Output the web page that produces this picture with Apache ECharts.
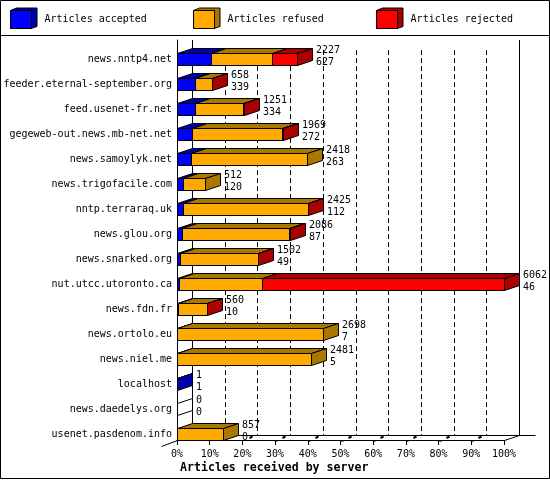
<!DOCTYPE html>
<html>
<head>
<meta charset="utf-8">
<style>html,body{margin:0;padding:0;background:#fff}#c{width:550px;height:480px}</style>
<script src="https://cdn.jsdelivr.net/npm/echarts@6/dist/echarts.min.js"></script>
</head>
<body>
<div id="c"></div>
<script>
const categories = ['news.nntp4.net','feeder.eternal-september.org','feed.usenet-fr.net','gegeweb-out.news.mb-net.net','news.samoylyk.net','news.trigofacile.com','nntp.terraraq.uk','news.glou.org','news.snarked.org','nut.utcc.utoronto.ca','news.fdn.fr','news.ortolo.eu','news.niel.me','localhost','news.daedelys.org','usenet.pasdenom.info'];
const accepted = [627,339,334,272,263,120,112,87,49,46,10,7,5,1,0,0];
const refused  = [1139,316,882,1672,2155,392,2309,1996,1450,1539,547,2691,2476,0,0,857];
const rejected = [461,3,35,25,0,0,4,3,3,4477,3,0,0,0,0,0];
const totals   = [2227,658,1251,1969,2418,512,2425,2086,1502,6062,560,2698,2481,1,0,857];
const xTicks = [0,10,20,30,40,50,60,70,80,90,100];
const seriesNames = ['Articles accepted','Articles refused','Articles rejected'];
const colors = ['#0000ff','#ffaa00','#ff0000'];
const darkColors = ['#0000aa','#aa7700','#aa0000'];

const FONT = '"DejaVu Sans Mono", monospace';
const DX = 15, DY = 5, BAR_H = 12;
const maxTotal = Math.max(...totals);
const pct = v => v / maxTotal * 100;
const crisp = v => Math.round(v) + 0.5;
const lineStyle = {stroke:'#000', lineWidth:1, fill:null};

function barData(k){
  const src = [accepted, refused, rejected];
  return categories.map((c,i)=>{
    let start = 0;
    for (let j=0;j<k;j++) start += src[j][i];
    const end = start + src[k][i];
    let last = -1;
    for (let j=0;j<3;j++) if (src[j][i]>0) last = j;
    return [pct(start), pct(end), i, last===k?1:0, src[k][i]];
  }).filter(d=>d[4]>0 || (k===0 && totals[d[2]]===0));
}
function renderSeg(k){
  return function(params, api){
    const row = api.value(2), isLast = api.value(3), count = api.value(4);
    const c0 = api.coord([api.value(0), row]), c1 = api.coord([api.value(1), row]);
    const band = api.size([0,1])[1];
    const bottom = crisp(c0[1] + band/2), top = bottom - BAR_H;
    const x0 = crisp(c0[0]), x1 = crisp(c1[0]);
    const kids = [];
    const poly = (pts, fill) => ({type:'polygon', shape:{points:pts}, style:{fill, stroke:'#000', lineWidth:1}});
    if (count > 0) {
      kids.push(poly([[x0,top],[x1,top],[x1+DX,top-DY],[x0+DX,top-DY]], darkColors[k]));
      kids.push(poly([[x0,top],[x1,top],[x1,bottom],[x0,bottom]], colors[k]));
      if (isLast) kids.push(poly([[x1,top],[x1+DX,top-DY],[x1+DX,bottom-DY],[x1,bottom]], darkColors[k]));
    } else {
      kids.push(poly([[x1,top],[x1+DX,top-DY],[x1+DX,bottom-DY],[x1,bottom]], '#fff'));
    }
    return {type:'group', children:kids};
  };
}
function renderLabels(params, api){
  const row = api.value(1);
  const c = api.coord([api.value(0), row]);
  const band = api.size([0,1])[1];
  const bottom = Math.round(c[1] + band/2), top = bottom - BAR_H;
  const x = Math.round(c[0]) + DX + 4;
  const txt = (s,y)=>({type:'text', style:{text:String(s), x, y, fill:'#000', font:'10px '+FONT, textVerticalAlign:'middle', textAlign:'left'}});
  return {type:'group', children:[txt(totals[row], top-2.5), txt(accepted[row], top+9)]};
}
function renderWall(params, api){
  const t = api.value(0);
  const c = api.coord([t, categories[categories.length-1]]);
  const band = api.size([0,1])[1];
  const x = crisp(c[0]);
  const frontY = Math.round(c[1] + band/2), backY = frontY - DY;
  const topY = api.coord([t, categories[0]])[1] - band/2;
  const bx = x + DX;
  const kids = [];
  const line = (x1,y1,x2,y2,extra)=>({type:'line', shape:{x1,y1,x2,y2}, style:Object.assign({},lineStyle,extra||{})});
  if (t===0 || t===100) kids.push(line(bx,topY,bx,backY+0.5));
  else kids.push(line(bx,topY+10,bx,backY+0.5,{lineDash:[5,3]}));
  if (t===0) {
    kids.push(line(x,frontY+0.5,x-16,frontY+6.5));
    kids.push(line(bx,backY+0.5,bx+343,backY+0.5));
  }
  if (t===100) kids.push(line(x,frontY+0.5,bx,backY+0.5));
  if (t>=20 && t<=90) {
    if (t>=30) kids.push(line(x,frontY+1.5,x+3,frontY+0.5));
    kids.push(line(x+7,frontY-2,x+10,frontY-3.5,{lineWidth:2}));
  }
  return {type:'group', children:kids};
}

const legendBoxes = [0,1,2].map(i=>{
  const x0 = 10.5 + 183*i, x1 = x0 + 20.5, y0 = 10.5, y1 = 28.5;
  return {type:'polygon', z:1, shape:{points:[[x0,y0],[x0+6,8],[x1+6,8],[x1+6,y1-2],[x1,y1],[x0,y1]]}, style:{fill:darkColors[i], stroke:'#000', lineWidth:1}};
});

const option = {
  animation:false,
  backgroundColor:'#fff',
  textStyle:{fontFamily:FONT},
  title:{text:'Articles received by server', left:180, top:462, textStyle:{fontFamily:FONT, fontSize:11.6, fontWeight:'bold', color:'#000'}, padding:0},
  legend:{
    data:seriesNames, left:10, top:10, padding:0, orient:'horizontal',
    itemWidth:21, itemHeight:18, itemGap:46.2, icon:'rect',
    formatter:name=>name.padEnd(17,' '),
    textStyle:{fontFamily:FONT, fontSize:10, color:'#000', padding:[0,0,0,8]},
    selectedMode:false, z:10,
    itemStyle:{borderColor:'#000', borderWidth:1}
  },
  grid:{left:177, right:46, top:40, bottom:40, containLabel:false},
  xAxis:{
    type:'value', min:0, max:100, interval:10, splitLine:{show:false},
    axisLine:{show:true, lineStyle:{color:'#000', width:1}},
    axisTick:{show:true, length:5, lineStyle:{color:'#000', width:1}},
    axisLabel:{color:'#000', fontFamily:FONT, fontSize:10, margin:9, formatter:'{value}%', showMinLabel:true, showMaxLabel:true, hideOverlap:false}
  },
  yAxis:{
    type:'category', inverse:true, data:categories, boundaryGap:true,
    axisLine:{show:true, onZero:false, lineStyle:{color:'#000', width:1}},
    axisTick:{show:false}, splitLine:{show:false},
    axisLabel:{color:'#000', fontFamily:FONT, fontSize:10, margin:5, interval:0, verticalAlign:'top', lineHeight:13}
  },
  graphic:{elements:[
    {type:'rect', z:0, shape:{x:0.5,y:0.5,width:549,height:478}, style:{fill:null, stroke:'#000', lineWidth:1}},
    {type:'line', z:0, shape:{x1:0,y1:35.5,x2:550,y2:35.5}, style:{stroke:'#000', lineWidth:1}},
    ...legendBoxes
  ]},
  series:[
    {type:'custom', name:'wall', z:1, silent:true, clip:false, data:xTicks.map(t=>[t]), encode:{x:0}, renderItem:renderWall},
    ...[0,1,2].map(k=>({type:'custom', name:seriesNames[k], z:3, clip:false, silent:true, itemStyle:{color:colors[k]}, data:barData(k), encode:{x:[0,1], y:2}, renderItem:renderSeg(k)})),
    {type:'custom', name:'labels', z:4, clip:false, silent:true, data:categories.map((c,i)=>[pct(totals[i]), i]), encode:{x:0, y:1}, renderItem:renderLabels}
  ]
};
const chart = echarts.init(document.getElementById('c'), null, {renderer:'canvas', width:550, height:480});
chart.setOption(option);
</script>
</body>
</html>
